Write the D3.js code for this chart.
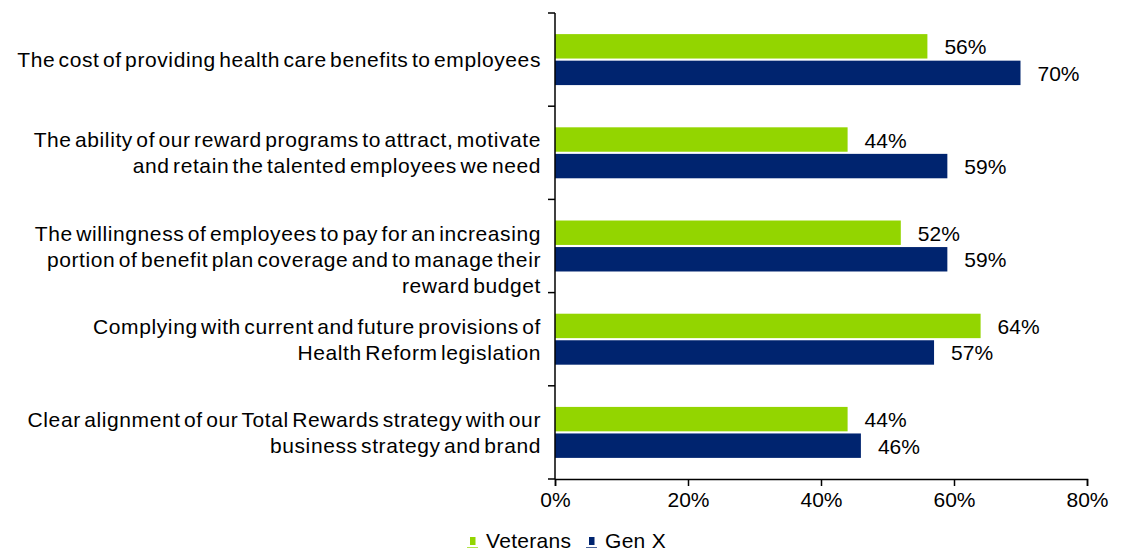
<!DOCTYPE html>
<html>
<head>
<meta charset="utf-8">
<script src="https://cdn.jsdelivr.net/npm/d3@7"></script>
<style>
  html, body { margin: 0; padding: 0; background: #fff; }
  svg { display: block; font-family: "Liberation Sans", Arial, sans-serif; }
  text { fill: #000; }
</style>
</head>
<body>
<svg id="chart" width="1125" height="552"></svg>
<script>
// Category labels, already broken into the lines they are shown on
const categories = [
  ["The cost of providing health care benefits to employees"],
  ["The ability of our reward programs to attract, motivate", "and retain the talented employees we need"],
  ["", "The willingness of employees to pay for an increasing", "portion of benefit plan coverage and to manage their", "reward budget"],
  ["Complying with current and future provisions of", "Health Reform legislation"],
  ["Clear alignment of our Total Rewards strategy with our", "business strategy and brand"]
];
const seriesNames = ["Veterans", "Gen X"];
const veterans = [56, 44, 52, 64, 44];
const genX = [70, 59, 59, 57, 46];
const xTicks = [0, 20, 40, 60, 80];
const colors = ["#93d500", "#00246f"];

const svg = d3.select("#chart");
const FONT = 21;

const x = d3.scaleLinear().domain([0, 80]).range([555, 1087]);
const catIdx = d3.range(categories.length);
const y0 = d3.scaleBand().domain(catIdx).range([13, 479])
  .paddingInner(0.453).paddingOuter(0.2265);
const y1 = d3.scaleBand().domain(seriesNames).range([0, y0.bandwidth()]).paddingInner(0.08);

const rows = catIdx.map(i => ({ i, values: [veterans[i], genX[i]] }));

// Bars
const groups = svg.append("g").selectAll("g").data(rows).join("g")
  .attr("transform", d => `translate(0,${y0(d.i)})`);
groups.selectAll("rect").data(d => d.values.map((v, k) => ({ v, k })))
  .join("rect")
  .attr("x", x(0))
  .attr("y", d => y1(seriesNames[d.k]))
  .attr("width", d => x(d.v) - x(0))
  .attr("height", y1.bandwidth())
  .attr("fill", d => colors[d.k]);

// Value labels
groups.selectAll("text").data(d => d.values.map((v, k) => ({ v, k })))
  .join("text")
  .attr("x", d => x(d.v) + 17)
  .attr("y", d => y1(seriesNames[d.k]) + y1.bandwidth() / 2 + 8)
  .attr("font-size", FONT)
  .text(d => d.v + "%");

// Category axis: line plus ticks on band boundaries
const yAxis = svg.append("g");
yAxis.append("line")
  .attr("x1", x(0)).attr("x2", x(0)).attr("y1", 13).attr("y2", 479)
  .attr("stroke", "#000").attr("stroke-width", 1.5);
const step = y0.step();
yAxis.selectAll("line.tick").data(d3.range(categories.length + 1)).join("line")
  .attr("class", "tick")
  .attr("x1", x(0) - 7).attr("x2", x(0))
  .attr("y1", d => 13 + d * step).attr("y2", d => 13 + d * step)
  .attr("stroke", "#000").attr("stroke-width", 1.5);

// Category labels: tight word gaps, slightly open letters
const lineH = 26;
const labels = svg.append("g").selectAll("text").data(rows).join("text")
  .attr("text-anchor", "end")
  .attr("font-size", FONT)
  .attr("letter-spacing", 0.6)
  .attr("word-spacing", -3)
  .attr("transform", d => `translate(541,${y0(d.i) + y0.bandwidth() / 2})`);
labels.selectAll("tspan").data(d => categories[d.i].map((t, j, arr) => ({ t, j, n: arr.length })))
  .join("tspan")
  .attr("x", 0)
  .attr("y", d => (d.j - (d.n - 1) / 2) * lineH + 7.5)
  .text(d => d.t);

// Value axis
const xAxis = svg.append("g").attr("transform", "translate(0,479)")
  .call(d3.axisBottom(x).tickValues(xTicks).tickSize(7).tickPadding(6).tickFormat(d => d + "%"));
xAxis.select(".domain").attr("stroke", "#000").attr("stroke-width", 1.5);
xAxis.selectAll(".tick line").attr("stroke", "#000").attr("stroke-width", 1.5);
xAxis.selectAll(".tick text").attr("font-size", FONT).attr("font-family", "Liberation Sans, Arial, sans-serif")
  .attr("fill", "#000");

// Legend
const legendX = [477, 596];
const legend = svg.append("g").selectAll("g").data(seriesNames).join("g")
  .attr("transform", (d, k) => `translate(${legendX[k]},0)`);
legend.append("line")
  .attr("x1", -10).attr("x2", 1).attr("y1", 547.5).attr("y2", 547.5)
  .attr("stroke", (d, k) => colors[k]).attr("stroke-opacity", 0.7).attr("stroke-width", 1);
legend.append("rect")
  .attr("x", -7).attr("y", 537).attr("width", 5.5).attr("height", 8)
  .attr("fill", (d, k) => colors[k]);
legend.append("text")
  .attr("x", 9).attr("y", 548)
  .attr("font-size", FONT)
  .attr("letter-spacing", 0.3)
  .text(d => d);
</script>
</body>
</html>
